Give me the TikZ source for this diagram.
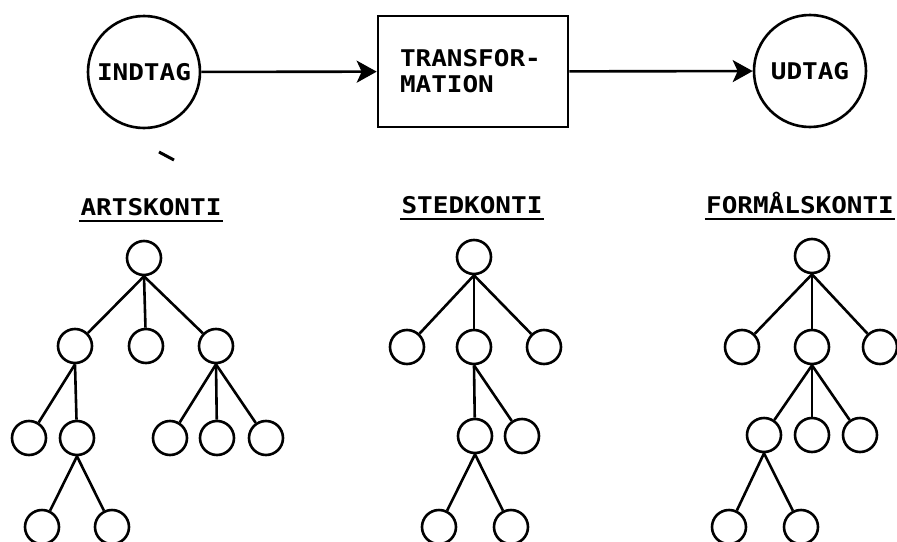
\documentclass[tikz,border=0pt]{standalone}
\usepackage{fontspec}
\newfontfamily\tw{DejaVu Sans Mono Bold}[FakeStretch=1.13]
\usetikzlibrary{arrows.meta}
\begin{document}
\begin{tikzpicture}[x=1pt,y=-1pt,line width=2.6pt,
  txt/.style={font=\tw\fontsize{23}{26}\selectfont},
  big/.style={circle,draw,minimum size=112pt,inner sep=0pt,txt},
  box/.style={draw,txt,text width=146pt,inner xsep=22pt,inner ysep=0pt,minimum height=111pt,align=left},
  sm/.style={circle,draw,minimum size=34pt,inner sep=0pt},
  head/.style={txt,inner sep=0pt,anchor=base},
  ul/.style={line width=2.8pt},
  arr/.style={-{Stealth[length=20pt,width=22pt,inset=5pt]}},
  link/.style={line width=2.6pt}]
\useasboundingbox (0,0) rectangle (897,541);
% top row
\node[big] (in) at (144,72) {INDTAG};
\node[box] (tr) at (473,71.5) {TRANSFOR-\\MATION};
\node[big] (out) at (810,71) {UDTAG};
\draw[arr] (in) -- (tr);
\draw[arr] (tr) -- (out);
\draw[line width=3pt] (159,152) -- (174,160);
% headings
\node[head] (h1) at (151,215) {ARTSKONTI};
\node[head] (h2) at (472,213) {STEDKONTI};
\node[head] (h3) at (800,213) {FORMÅLSKONTI};
\foreach \h in {h1,h2,h3}{
  \draw[ul] ([yshift=-6pt]\h.base west) -- ([yshift=-6pt]\h.base east);
}
% tree 1
\node[sm] (a0) at (144,258) {};
\node[sm] (a1) at (75,346) {};
\node[sm] (a2) at (146,346) {};
\node[sm] (a3) at (216,346) {};
\node[sm] (a4) at (29,438) {};
\node[sm] (a5) at (77,438) {};
\node[sm] (a6) at (170,438) {};
\node[sm] (a7) at (217,438) {};
\node[sm] (a8) at (266,438) {};
\node[sm] (a9) at (42,527) {};
\node[sm] (a10) at (112,527) {};
\foreach \c in {a1,a2,a3} \draw[link] (a0.south) -- (\c);
\foreach \c in {a4,a5} \draw[link] (a1.south) -- (\c);
\foreach \c in {a6,a7,a8} \draw[link] (a3.south) -- (\c);
\foreach \c in {a9,a10} \draw[link] (a5.south) -- (\c);
% tree 2
\node[sm] (b0) at (474,257) {};
\node[sm] (b1) at (407,347) {};
\node[sm] (b2) at (474,347) {};
\node[sm] (b3) at (544,347) {};
\node[sm] (b4) at (475,436) {};
\node[sm] (b5) at (522,436) {};
\node[sm] (b6) at (439,527) {};
\node[sm] (b7) at (511,527) {};
\foreach \c in {b1,b2,b3} \draw[link] (b0.south) -- (\c);
\foreach \c in {b4,b5} \draw[link] (b2.south) -- (\c);
\foreach \c in {b6,b7} \draw[link] (b4.south) -- (\c);
% tree 3
\node[sm] (c0) at (812,256) {};
\node[sm] (c1) at (742,347) {};
\node[sm] (c2) at (812,347) {};
\node[sm] (c3) at (880,347) {};
\node[sm] (c4) at (764,435) {};
\node[sm] (c5) at (812,435) {};
\node[sm] (c6) at (860,435) {};
\node[sm] (c7) at (729,527) {};
\node[sm] (c8) at (801,527) {};
\foreach \c in {c1,c2,c3} \draw[link] (c0.south) -- (\c);
\foreach \c in {c4,c5,c6} \draw[link] (c2.south) -- (\c);
\foreach \c in {c7,c8} \draw[link] (c4.south) -- (\c);
\end{tikzpicture}
\end{document}
